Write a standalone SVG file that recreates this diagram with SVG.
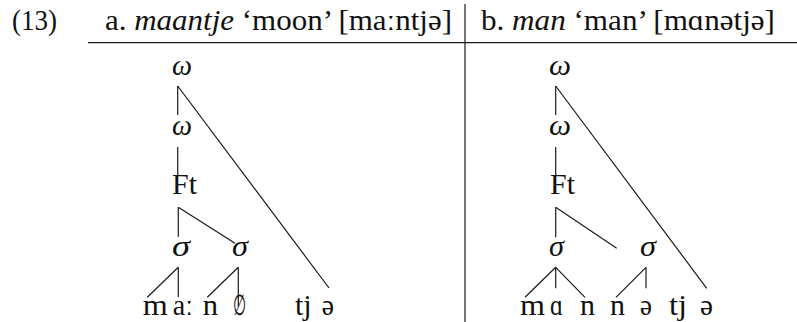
<svg xmlns="http://www.w3.org/2000/svg" width="797" height="322" viewBox="0 0 797 322">
<style>
text{font-family:"Liberation Serif","Times New Roman",serif;font-size:29px;fill:#111}
.i{font-style:italic}
.c line{stroke:#1a1a1a;stroke-width:1.2}
</style>
<rect width="797" height="322" fill="#fff"/>
<g id="header">
<text x="12" y="30" textLength="45" lengthAdjust="spacingAndGlyphs">(13)</text>
<text x="105" y="30" textLength="347" lengthAdjust="spacingAndGlyphs">a. <tspan class="i">maantje</tspan> ‘moon’ [maːntjə]</text>
<text x="481" y="30" textLength="294" lengthAdjust="spacingAndGlyphs">b. <tspan class="i">man</tspan> ‘man’ [mɑnətjə]</text>
</g>
<g id="rules" class="c">
<line x1="88" y1="42.7" x2="797" y2="42.7"/>
<line x1="465" y1="4" x2="465" y2="322"/>
</g>
<g id="tree-a">
<g id="a-w1"><text class="i" x="172" y="75" textLength="20" lengthAdjust="spacingAndGlyphs">ω</text></g>
<g id="a-w2"><text class="i" x="172" y="135" textLength="20" lengthAdjust="spacingAndGlyphs">ω</text></g>
<g id="a-ft"><text x="172" y="194" textLength="25" lengthAdjust="spacingAndGlyphs">Ft</text></g>
<g id="a-s1"><text class="i" x="172" y="256" textLength="18" lengthAdjust="spacingAndGlyphs">σ</text></g>
<g id="a-s2"><text class="i" x="232" y="256" textLength="16" lengthAdjust="spacingAndGlyphs">σ</text></g>
<g id="a-m"><text x="142.7" y="315" textLength="25" lengthAdjust="spacingAndGlyphs">m</text></g>
<g id="a-a"><text x="172.7" y="315" textLength="20.3" lengthAdjust="spacingAndGlyphs">aː</text></g>
<g id="a-n"><text x="202.7" y="315" textLength="15.3" lengthAdjust="spacingAndGlyphs">n</text></g>
<g id="a-empty"><text x="233" y="315" textLength="13" lengthAdjust="spacingAndGlyphs">∅</text></g>
<g id="a-tj"><text x="295" y="315" textLength="16.7" lengthAdjust="spacingAndGlyphs">tj</text></g>
<g id="a-schwa"><text x="321.7" y="315" textLength="12.3" lengthAdjust="spacingAndGlyphs">ə</text></g>
</g>
<g id="tree-b">
<g id="b-w1"><text class="i" x="549" y="75" textLength="22" lengthAdjust="spacingAndGlyphs">ω</text></g>
<g id="b-w2"><text class="i" x="549" y="135" textLength="22" lengthAdjust="spacingAndGlyphs">ω</text></g>
<g id="b-ft"><text x="550" y="194" textLength="25" lengthAdjust="spacingAndGlyphs">Ft</text></g>
<g id="b-s1"><text class="i" x="549" y="256" textLength="15" lengthAdjust="spacingAndGlyphs">σ</text></g>
<g id="b-s2"><text class="i" x="640" y="256" textLength="16" lengthAdjust="spacingAndGlyphs">σ</text></g>
<g id="b-m"><text x="520" y="315" textLength="25" lengthAdjust="spacingAndGlyphs">m</text></g>
<g id="b-a"><text x="550" y="315" textLength="13" lengthAdjust="spacingAndGlyphs">ɑ</text></g>
<g id="b-n1"><text x="580" y="315" textLength="15" lengthAdjust="spacingAndGlyphs">n</text></g>
<g id="b-n2"><text x="610" y="315" textLength="15" lengthAdjust="spacingAndGlyphs">n</text></g>
<g id="b-schwa1"><text x="640" y="315" textLength="12" lengthAdjust="spacingAndGlyphs">ə</text></g>
<g id="b-tj"><text x="669" y="315" textLength="18" lengthAdjust="spacingAndGlyphs">tj</text></g>
<g id="b-schwa2"><text x="700" y="315" textLength="13" lengthAdjust="spacingAndGlyphs">ə</text></g>
</g>
<g id="connectors" class="c">
<line x1="177.7" y1="86" x2="177.7" y2="115"/>
<line x1="177.7" y1="86" x2="329" y2="288"/>
<line x1="177.7" y1="147" x2="177.7" y2="175"/>
<line x1="178.3" y1="207.3" x2="178.3" y2="236.7"/>
<line x1="178.3" y1="207.3" x2="235" y2="243.3"/>
<line x1="178.3" y1="267.3" x2="147.3" y2="297.3"/>
<line x1="178.3" y1="267.3" x2="178.3" y2="297"/>
<line x1="238.3" y1="267.3" x2="207.3" y2="297.3"/>
<line x1="238.3" y1="267.3" x2="238.3" y2="306.7"/>
<line x1="555.7" y1="86" x2="555.7" y2="115"/>
<line x1="555.7" y1="86" x2="706.7" y2="288.3"/>
<line x1="555.7" y1="147" x2="555.7" y2="175"/>
<line x1="555.7" y1="207.3" x2="555.7" y2="237.3"/>
<line x1="555.7" y1="207.3" x2="616.7" y2="248.3"/>
<line x1="555.7" y1="267.3" x2="525" y2="297.3"/>
<line x1="555.7" y1="267.3" x2="555.7" y2="288.3"/>
<line x1="555.7" y1="267.3" x2="585" y2="297.3"/>
<line x1="646" y1="267.3" x2="616" y2="297.3"/>
<line x1="646" y1="267.3" x2="646" y2="288.3"/>
</g>
</svg>
